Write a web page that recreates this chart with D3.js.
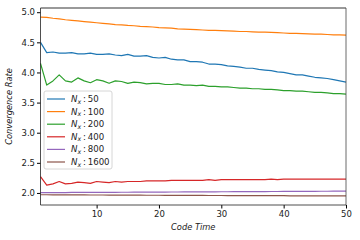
<!DOCTYPE html>
<html>
<head>
<meta charset="utf-8">
<script src="https://cdn.jsdelivr.net/npm/d3@7"></script>
<style>
body { margin: 0; background: #fff; }
svg { display: block; font-family: "DejaVu Sans", sans-serif; }
</style>
</head>
<body>
<div></div>
<script>
const width = 360, height = 240

// data
const times = d3.range(1, 51)
const labels = ["50", "100", "200", "400", "800", "1600"]
const colors = ["#1f77b4", "#ff7f0e", "#2ca02c", "#d62728", "#9467bd", "#8c564b"]
const nx50 = [4.50,4.33,4.34,4.32,4.32,4.33,4.31,4.31,4.32,4.30,4.30,4.31,4.29,4.28,4.30,4.27,4.27,4.28,4.25,4.24,
	4.25,4.22,4.21,4.21,4.18,4.18,4.17,4.14,4.14,4.13,4.11,4.10,4.09,4.07,4.07,4.05,4.04,4.03,4.01,4.00,
	3.98,3.96,3.96,3.94,3.92,3.91,3.90,3.88,3.86,3.84]
const nx100 = [4.92,4.915,4.90,4.89,4.875,4.865,4.855,4.845,4.835,4.825,4.815,4.805,4.795,4.79,4.78,4.775,4.765,4.76,4.755,4.745,
	4.74,4.735,4.725,4.72,4.715,4.71,4.705,4.70,4.70,4.695,4.69,4.685,4.68,4.68,4.675,4.67,4.67,4.665,4.66,4.655,
	4.65,4.65,4.645,4.64,4.635,4.635,4.63,4.625,4.625,4.62]
const nx200 = [4.15,3.79,3.86,3.96,3.86,3.84,3.91,3.86,3.83,3.88,3.86,3.82,3.86,3.85,3.82,3.84,3.83,3.81,3.82,3.82,
	3.80,3.80,3.81,3.79,3.79,3.78,3.79,3.77,3.77,3.76,3.76,3.75,3.74,3.74,3.73,3.73,3.72,3.72,3.71,3.70,
	3.70,3.69,3.69,3.68,3.67,3.67,3.66,3.65,3.65,3.64]
const nx400 = [2.27,2.13,2.15,2.19,2.15,2.16,2.18,2.17,2.16,2.19,2.18,2.17,2.19,2.18,2.19,2.19,2.19,2.20,2.20,2.20,
	2.20,2.21,2.21,2.21,2.21,2.21,2.21,2.22,2.21,2.22,2.22,2.22,2.22,2.22,2.22,2.22,2.22,2.23,2.22,2.23,
	2.23,2.23,2.23,2.23,2.23,2.23,2.23,2.23,2.23,2.23]
const nx800 = [2.005,2.006,2.006,2.007,2.007,2.008,2.008,2.009,2.009,2.010,2.010,2.011,2.011,2.012,2.012,2.013,2.013,2.014,2.014,2.015,
	2.015,2.016,2.016,2.017,2.017,2.018,2.018,2.019,2.019,2.020,2.020,2.021,2.021,2.022,2.022,2.023,2.023,2.024,2.024,2.025,
	2.025,2.026,2.026,2.027,2.027,2.028,2.028,2.029,2.029,2.030]
const nx1600 = [1.970,1.970,1.969,1.969,1.968,1.968,1.967,1.967,1.966,1.966,1.966,1.965,1.965,1.964,1.964,1.963,1.963,1.962,1.962,1.962,
	1.961,1.961,1.960,1.960,1.960,1.959,1.959,1.958,1.958,1.958,1.957,1.957,1.956,1.956,1.956,1.955,1.955,1.954,1.954,1.954,
	1.953,1.953,1.952,1.952,1.952,1.951,1.951,1.950,1.950,1.950]
const series = [nx50, nx100, nx200, nx400, nx800, nx1600]
const xTicks = [10, 20, 30, 40, 50]
const yTicks = [2.0, 2.5, 3.0, 3.5, 4.0, 4.5, 5.0]

const svg = d3.select("div")
	.append("svg")
	.attr("width", width)
	.attr("height", height)

// plot area
const plotLeft = 40.5, plotRight = 346, plotTop = 8, plotBottom = 205
const x = d3.scaleLinear().domain([1, 50]).range([plotLeft, plotRight])
const y = d3.scaleLinear().domain([1.8, 5.07]).range([plotBottom, plotTop])

// axes
svg.append("g")
	.attr("transform", `translate(0,${plotBottom})`)
	.call(d3.axisBottom(x).tickValues(xTicks).tickSize(3.5).tickPadding(2).tickFormat(d3.format("d")))
	.call(g => g.select(".domain").remove())
	.call(g => g.selectAll("text").attr("font-size", 8.5).attr("fill", "#222").attr("font-family", "DejaVu Sans"))
svg.append("g")
	.attr("transform", `translate(${plotLeft},0)`)
	.call(d3.axisLeft(y).tickValues(yTicks).tickSize(3.5).tickPadding(2).tickFormat(d3.format(".1f")))
	.call(g => g.select(".domain").remove())
	.call(g => g.selectAll("text").attr("font-size", 8.5).attr("fill", "#222").attr("font-family", "DejaVu Sans"))

// series lines
const line = d3.line()
	.x((d, i) => x(times[i]))
	.y(d => y(d))
svg.selectAll().data(series).enter().append("path")
	.attr("d", d => line(d))
	.attr("fill", "none")
	.attr("stroke", (d, i) => colors[i])
	.attr("stroke-width", 1.2)
	.attr("stroke-linejoin", "round")

// spines
svg.append("line").attr("x1", plotLeft).attr("x2", plotRight).attr("y1", plotTop).attr("y2", plotTop)
	.attr("stroke", "#999").attr("stroke-width", 2)
svg.append("line").attr("x1", plotLeft).attr("x2", plotLeft).attr("y1", plotTop).attr("y2", plotBottom)
	.attr("stroke", "#222").attr("stroke-width", 0.8)
svg.append("line").attr("x1", plotRight).attr("x2", plotRight).attr("y1", plotTop).attr("y2", plotBottom)
	.attr("stroke", "#444").attr("stroke-width", 0.8)
svg.append("line").attr("x1", plotLeft).attr("x2", plotRight).attr("y1", plotBottom).attr("y2", plotBottom)
	.attr("stroke", "#222").attr("stroke-width", 0.8)

// axis labels
svg.append("text")
	.attr("x", (plotLeft + plotRight) / 2)
	.attr("y", 230)
	.attr("text-anchor", "middle")
	.attr("font-size", 8.3)
	.attr("font-style", "italic")
	.attr("fill", "#222")
	.text("Code Time")
svg.append("text")
	.attr("transform", `translate(12,${(plotTop + plotBottom) / 2}) rotate(-90)`)
	.attr("text-anchor", "middle")
	.attr("font-size", 8.3)
	.attr("font-style", "italic")
	.attr("fill", "#222")
	.text("Convergence Rate")

// legend
const lg = svg.append("g").attr("transform", "translate(44,91)")
lg.append("rect")
	.attr("width", 68).attr("height", 78).attr("rx", 2)
	.attr("fill", "#fff").attr("fill-opacity", 0.8)
	.attr("stroke", "#ccc").attr("stroke-width", 0.8)
const items = lg.selectAll().data(labels).enter().append("g")
	.attr("transform", (d, i) => `translate(0,${8 + i * 12.6})`)
items.append("line")
	.attr("x1", 3).attr("x2", 21)
	.attr("stroke", (d, i) => colors[i]).attr("stroke-width", 1.2)
const lt = items.append("text")
	.attr("x", 27).attr("y", 3)
	.attr("font-size", 8.6).attr("fill", "#222")
lt.append("tspan").attr("font-style", "italic").text("N")
lt.append("tspan").attr("font-style", "italic").attr("font-size", 6.2).attr("dy", 1.6).text("x")
lt.append("tspan").attr("dy", -1.6).attr("dx", 2).text(d => ":\u2009" + d)
</script>
</body>
</html>
